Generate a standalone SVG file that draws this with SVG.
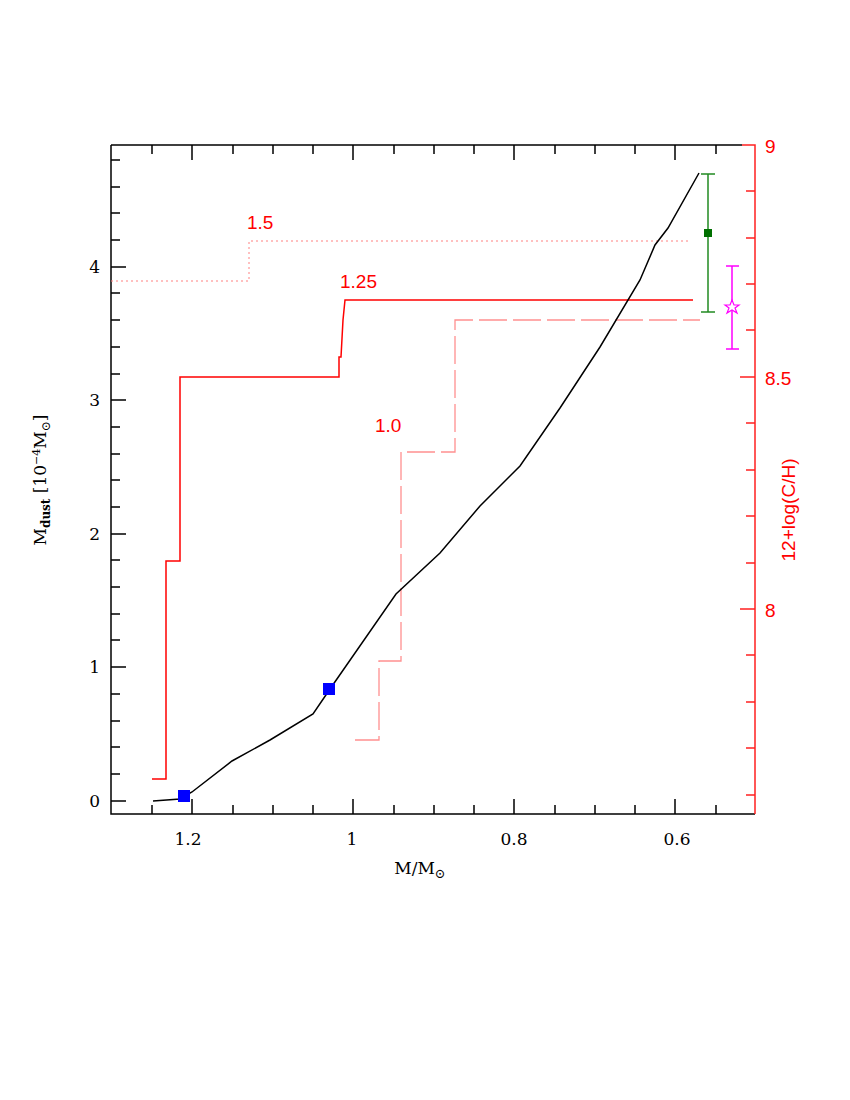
<svg xmlns="http://www.w3.org/2000/svg" width="850" height="1100" viewBox="0 0 850 1100">
<style>
.ax{stroke:#000;stroke-width:1.5;fill:none}
.rax{stroke:#ff2020;stroke-width:1.5;fill:none}
.s{font-family:"DejaVu Serif","Liberation Serif",serif;font-size:17px;fill:#000}
.r{font-family:"Liberation Sans",sans-serif;font-size:19px;fill:#ff0000}
</style>
<rect width="850" height="1100" fill="#fff"/>
<g id="axes">
<path class="ax" d="M111,145 V814 H755 M111,145 H742"/>
<path class="rax" d="M742,145 H755 V814"/>
<path class="ax" d="M111,801 h15 M111,667 h15 M111,534 h15 M111,400 h15 M111,267 h15
M111,774 h9 M111,747 h9 M111,721 h9 M111,694 h9 M111,640 h9 M111,614 h9 M111,587 h9 M111,560 h9 M111,507 h9 M111,480 h9 M111,454 h9 M111,427 h9 M111,374 h9 M111,347 h9 M111,320 h9 M111,293 h9 M111,240 h9 M111,213 h9 M111,187 h9 M111,160 h9
M192,814 v-15 M353,814 v-15 M514,814 v-15 M675,814 v-15
M152,814 v-9 M233,814 v-9 M273,814 v-9 M313,814 v-9 M394,814 v-9 M434,814 v-9 M474,814 v-9 M555,814 v-9 M595,814 v-9 M635,814 v-9 M716,814 v-9
M192,145 v15 M353,145 v15 M514,145 v15 M675,145 v15
M152,145 v9 M233,145 v9 M273,145 v9 M313,145 v9 M394,145 v9 M434,145 v9 M474,145 v9 M555,145 v9 M595,145 v9 M635,145 v9 M716,145 v9"/>
<path class="rax" d="M755,377 h-15 M755,609 h-15 M755,191 h-9 M755,238 h-9 M755,284 h-9 M755,330 h-9 M755,423 h-9 M755,470 h-9 M755,516 h-9 M755,563 h-9 M755,655 h-9 M755,702 h-9 M755,748 h-9 M755,795 h-9"/>
<g class="s" text-anchor="end">
<text x="100" y="807">0</text><text x="100" y="673">1</text><text x="100" y="540">2</text><text x="100" y="406">3</text><text x="100" y="273">4</text>
</g>
<g class="s" text-anchor="middle">
<text x="188" y="845">1.2</text><text x="352" y="845">1</text><text x="514" y="845">0.8</text><text x="677" y="845">0.6</text>
<text x="420" y="874">M/M<tspan font-size="13" dy="4">⊙</tspan></text>
</g>
<text class="s" transform="translate(46,480) rotate(-90)" text-anchor="middle">M<tspan font-size="12" dy="4" font-weight="bold">dust</tspan><tspan dy="-4"> [10</tspan><tspan font-size="11" dy="-6">−4</tspan><tspan dy="6">M</tspan><tspan font-size="12" dy="4">⊙</tspan><tspan dy="-4">]</tspan></text>
<g class="r">
<text x="765" y="153">9</text><text x="765" y="385">8.5</text><text x="765" y="617">8</text>
<text transform="translate(795,510) rotate(-90)" text-anchor="middle">12+log(C/H)</text>
</g>
</g>
<g id="curves" fill="none">
<path d="M111,281 H249 V241 H688" stroke="#ff8080" stroke-width="1" stroke-dasharray="2,3"/>
<path d="M152,779 H166 V561 H180 V377 H339 V357 H341 L343,320 L345,300 H693" stroke="#ff0000" stroke-width="1.5"/>
<path d="M355,740 H379 V661 H401 V452 H455 V320 H700" stroke="#ff9090" stroke-width="1.3" stroke-dasharray="28,6"/>
<path d="M153,801 L180,799 L192,792 L232,761 L270,740 L313,714 L330,689 L396,594 L440,553 L480,506 L520,466 L560,408 L600,347 L640,280 L655,245 L668,228 L699,173" stroke="#000" stroke-width="1.5"/>
</g>
<g id="labels" class="r">
<text x="247" y="229">1.5</text><text x="340" y="288">1.25</text><text x="375" y="432">1.0</text>
</g>
<g id="points">
<rect x="178" y="790" width="12" height="12" fill="#0000ff"/>
<rect x="323" y="683" width="12" height="12" fill="#0000ff"/>
<path d="M701,174 h14 M708,174 V312 M701,312 h14" stroke="#228b22" stroke-width="1.5"/>
<rect x="704" y="229" width="8" height="8" fill="#007000"/>
<path d="M726,266 h13 M732,266 V349 M726,349 h13" stroke="#ff00ff" stroke-width="1.5"/>
<path d="M732,300 L734,305 L739,305 L735,308 L737,313 L732,310 L727,313 L729,308 L725,305 L730,305 Z" fill="#fff" stroke="#ff00ff" stroke-width="1.2"/>
</g>
</svg>
